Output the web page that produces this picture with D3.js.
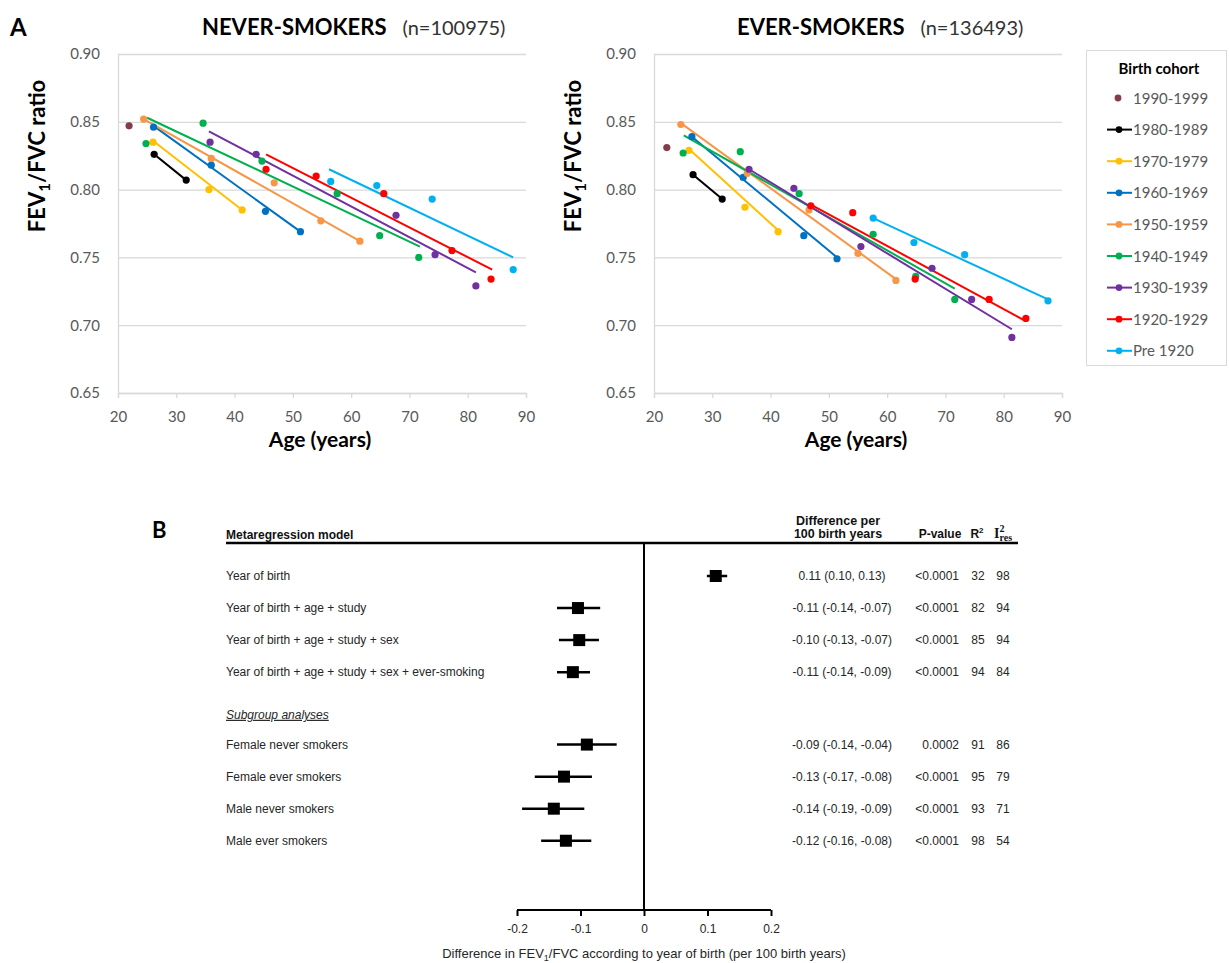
<!DOCTYPE html>
<html>
<head>
<meta charset="utf-8">
<script src="https://cdn.jsdelivr.net/npm/d3@7/dist/d3.min.js"></script>
<style>
body { margin: 0; background: #fff; }
svg { display: block; }
</style>
</head>
<body>
<svg width="1229" height="963"></svg>
<script>
// ---- panel A data ----
var cohorts = ["1990-1999","1980-1989","1970-1979","1960-1969","1950-1959","1940-1949","1930-1939","1920-1929","Pre 1920"];
var cohortColors = ["#843c4c","#000000","#ffc000","#0070c0","#f79646","#00b050","#7030a0","#ff0000","#00b0f0"];
var xTicks = [20,30,40,50,60,70,80,90];
var yTicks = [0.65,0.70,0.75,0.80,0.85,0.90];

// never-smokers: [age, FEV1/FVC] per cohort
var never1990 = [[21.9,0.847]];
var never1980 = [[26.2,0.826],[31.7,0.807]];
var never1970 = [[26.0,0.835],[35.6,0.800],[41.3,0.785]];
var never1960 = [[26.1,0.846],[36.0,0.818],[45.3,0.784],[51.3,0.769]];
var never1950 = [[24.4,0.852],[36.0,0.823],[46.8,0.805],[54.8,0.777],[61.5,0.762]];
var never1940 = [[24.8,0.834],[34.6,0.849],[44.7,0.821],[57.6,0.797],[64.9,0.766],[71.6,0.750]];
var never1930 = [[35.8,0.835],[43.7,0.826],[67.7,0.781],[74.4,0.752],[81.4,0.729]];
var never1920 = [[45.4,0.815],[54.0,0.810],[65.6,0.797],[77.3,0.755],[84.0,0.734]];
var neverPre  = [[56.5,0.806],[64.4,0.803],[73.9,0.793],[87.8,0.741]];
// never-smokers trend lines: [start, end]
var neverFits = [null,
  [[26.2,0.826],[31.7,0.807]],
  [[26.0,0.836],[41.3,0.785]],
  [[26.1,0.847],[51.3,0.769]],
  [[24.4,0.852],[61.5,0.762]],
  [[25.0,0.853],[71.8,0.758]],
  [[35.6,0.843],[81.4,0.739]],
  [[45.4,0.826],[84.2,0.741]],
  [[56.2,0.815],[87.8,0.750]]];

// ever-smokers
var ever1990 = [[22.2,0.831]];
var ever1980 = [[26.7,0.811],[31.7,0.793]];
var ever1970 = [[26.0,0.829],[35.6,0.787],[41.3,0.769]];
var ever1960 = [[26.5,0.839],[35.3,0.809],[45.7,0.766],[51.4,0.749]];
var ever1950 = [[24.6,0.848],[36.0,0.812],[46.6,0.785],[55.0,0.753],[61.5,0.733]];
var ever1940 = [[25.0,0.827],[34.8,0.828],[44.9,0.797],[57.6,0.767],[64.9,0.736],[71.6,0.719]];
var ever1930 = [[36.3,0.815],[44.0,0.801],[55.5,0.758],[67.7,0.742],[74.5,0.719],[81.4,0.691]];
var ever1920 = [[46.9,0.788],[54.1,0.783],[64.8,0.734],[77.5,0.719],[83.8,0.705]];
var everPre  = [[57.6,0.779],[64.6,0.761],[73.3,0.752],[87.6,0.718]];
var everFits = [null,
  [[26.7,0.811],[31.7,0.793]],
  [[26.0,0.830],[41.3,0.770]],
  [[26.5,0.839],[51.4,0.750]],
  [[24.6,0.849],[61.5,0.734]],
  [[25.1,0.840],[71.6,0.727]],
  [[36.3,0.815],[81.4,0.697]],
  [[46.9,0.789],[83.8,0.703]],
  [[57.6,0.779],[87.6,0.719]]];

var neverPoints = [never1990,never1980,never1970,never1960,never1950,never1940,never1930,never1920,neverPre];
var everPoints = [ever1990,ever1980,ever1970,ever1960,ever1950,ever1940,ever1930,ever1920,everPre];

// ---- panel B data ----
var models = ["Year of birth","Year of birth  + age  + study","Year of birth  + age  + study  + sex",
  "Year of birth  + age  + study  + sex  + ever-smoking","Female never smokers","Female ever smokers",
  "Male never smokers","Male ever smokers"];
var estimate = [0.113,-0.104,-0.102,-0.112,-0.090,-0.126,-0.142,-0.123];
var ciLow    = [0.099,-0.137,-0.134,-0.137,-0.137,-0.172,-0.192,-0.162];
var ciHigh   = [0.131,-0.069,-0.071,-0.085,-0.043,-0.082,-0.094,-0.083];
var diffText = ["0.11 (0.10, 0.13)","-0.11 (-0.14, -0.07)","-0.10 (-0.13, -0.07)","-0.11 (-0.14, -0.09)",
  "-0.09 (-0.14, -0.04)","-0.13 (-0.17, -0.08)","-0.14 (-0.19, -0.09)","-0.12 (-0.16, -0.08)"];
var pText = ["<0.0001","<0.0001","<0.0001","<0.0001","0.0002","<0.0001","<0.0001","<0.0001"];
var r2Text = ["32","82","85","94","91","95","93","98"];
var i2Text = ["98","94","94","84","86","79","71","54"];
var forestTicks = [-0.2,-0.1,0,0.1,0.2];

var svg = d3.select("svg");
var calibri = "Lato, 'Open Sans', sans-serif";
var narrow = "'Liberation Sans Narrow', 'Arial Narrow', 'Liberation Sans', Arial, sans-serif";

var plotW = 408, plotH = 339, plotTop = 54;
var x = d3.scaleLinear().domain([20,90]).range([0,plotW]);
var y = d3.scaleLinear().domain([0.65,0.90]).range([plotH,0]);
var line = d3.line().x(function(d){ return x(d[0]); }).y(function(d){ return y(d[1]); });

function drawPanel(left, pts, fits, title, ntext, titleX) {
  var g = svg.append("g").attr("transform","translate("+left+","+plotTop+")");

  //grid lines
  g.append("g")
    .call(d3.axisLeft(y).tickValues(yTicks).tickSize(-plotW).tickFormat(""))
    .call(function(a){ a.select(".domain").remove(); })
    .selectAll("line").attr("stroke","#d9d9d9").attr("stroke-width",1.3);

  var ya = g.append("g")
    .call(d3.axisLeft(y).tickValues(yTicks).tickSize(0).tickPadding(18).tickFormat(d3.format(".2f")));
  ya.select(".domain").attr("stroke","#d9d9d9").attr("stroke-width",1.3);
  ya.selectAll("text").attr("font-family",calibri).attr("font-size",15).attr("fill","#595959");

  var xa = g.append("g").attr("transform","translate(0,"+plotH+")")
    .call(d3.axisBottom(x).tickValues(xTicks).tickSize(5).tickPadding(13));
  xa.select(".domain").attr("stroke","#d9d9d9").attr("stroke-width",1.3);
  xa.selectAll("line").attr("stroke","#d9d9d9").attr("stroke-width",1.3);
  xa.selectAll("text").attr("font-family",calibri).attr("font-size",15).attr("fill","#595959");

  // trend lines
  fits.forEach(function(f,i){
    if (!f) return;
    g.append("path").datum(f).attr("d",line)
      .attr("fill","none").attr("stroke",cohortColors[i]).attr("stroke-width",2);
  });
  // points
  pts.forEach(function(p,i){
    g.selectAll(".pt"+i).data(p).enter().append("circle")
      .attr("cx",function(d){ return x(d[0]); })
      .attr("cy",function(d){ return y(d[1]); })
      .attr("r",3.6).attr("fill",cohortColors[i]);
  });

  // y title
  var yt = g.append("text").attr("transform","translate(-73,102) rotate(-90)")
    .attr("text-anchor","middle").attr("font-family",calibri).attr("font-weight","bold")
    .attr("font-size",22).attr("fill","#000");
  yt.append("tspan").text("FEV");
  yt.append("tspan").attr("font-size",15).attr("dy",5).text("1");
  yt.append("tspan").attr("dy",-5).text("/FVC ratio");

  g.append("text").attr("x",plotW/2 - 2).attr("y",plotH+54)
    .attr("text-anchor","middle").attr("font-family",calibri).attr("font-weight","bold")
    .attr("font-size",21).text("Age (years)");

  var tt = svg.append("text").attr("x",titleX).attr("y",35)
    .attr("font-family",calibri).attr("font-size",22);
  tt.append("tspan").attr("font-weight","bold").text(title);
  tt.append("tspan").attr("dx",16).attr("font-size",20).attr("fill","#333").text(ntext);
}

svg.append("text").attr("x",10).attr("y",36).attr("font-family",calibri)
  .attr("font-weight","bold").attr("font-size",24).text("A");

drawPanel(118, neverPoints, neverFits, "NEVER-SMOKERS", "(n=100975)", 202);
drawPanel(654, everPoints, everFits, "EVER-SMOKERS", "(n=136493)", 737);

// legend
var lg = svg.append("g").attr("transform","translate(1086,50)");
lg.append("rect").attr("x",0.5).attr("y",0.5).attr("width",140).attr("height",315)
  .attr("fill","#fff").attr("stroke","#d9d9d9");
lg.append("text").attr("x",73).attr("y",24).attr("text-anchor","middle")
  .attr("font-family",calibri).attr("font-weight","bold").attr("font-size",15).text("Birth cohort");
var li = lg.selectAll(".li").data(cohorts).enter().append("g")
  .attr("transform",function(d,i){ return "translate(0,"+(48 + i*31.6)+")"; });
li.filter(function(d,i){ return i>0; }).append("line")
  .attr("x1",21).attr("x2",46).attr("stroke",function(d){ return cohortColors[cohorts.indexOf(d)]; })
  .attr("stroke-width",2);
li.append("circle").attr("cx",function(d,i){ return i==0 ? 32 : 33; }).attr("r",3.4)
  .attr("fill",function(d,i){ return cohortColors[i]; });
li.append("text").attr("x",47).attr("y",5.5).attr("font-family",calibri).attr("font-size",15)
  .attr("fill","#595959").text(function(d){ return d; });

// ---- panel B ----
var fx = d3.scaleLinear().domain([-0.2,0.2]).range([517,771]);
// row slot positions (subgroup header sits in slot 4.33)
var rowSlot = [0,1,2,3,5.26,6.26,7.26,8.26];
var rowY = function(s){ return 576 + s*32.05; };

svg.append("text").attr("x",152).attr("y",538).attr("font-family",calibri)
  .attr("font-weight","bold").attr("font-size",22).text("B");

var fb = svg.append("g").attr("font-family",narrow).attr("font-size",12).attr("fill","#262626");
fb.append("text").attr("x",226).attr("y",539).attr("font-weight","bold").attr("fill","#111").text("Metaregression model");
fb.append("text").attr("x",838).attr("y",525).attr("text-anchor","middle").attr("font-weight","bold").attr("fill","#111").attr("font-size",12.5).text("Difference per");
fb.append("text").attr("x",838).attr("y",538).attr("text-anchor","middle").attr("font-weight","bold").attr("fill","#111").attr("font-size",12.5).text("100 birth years");
fb.append("text").attr("x",940).attr("y",538).attr("text-anchor","middle").attr("font-weight","bold").attr("fill","#111").text("P-value");
var r2h = fb.append("text").attr("x",977).attr("y",538).attr("text-anchor","middle").attr("font-weight","bold").attr("fill","#111");
r2h.append("tspan").text("R");
r2h.append("tspan").attr("font-size",8).attr("dy",-5).text("2");
var i2h = fb.append("text").attr("x",994).attr("y",538).attr("font-weight","bold").attr("fill","#111")
  .attr("font-family","'Liberation Serif', serif").attr("font-size",14);
i2h.append("tspan").text("I");
i2h.append("tspan").attr("font-size",10).attr("dy",-6).text("2");
i2h.append("tspan").attr("font-size",10).attr("dx",-5).attr("dy",9).text("res");

fb.append("line").attr("x1",226).attr("x2",1018).attr("y1",543).attr("y2",543)
  .attr("stroke","#000").attr("stroke-width",2.5);
fb.append("line").attr("x1",fx(0)).attr("x2",fx(0)).attr("y1",543).attr("y2",910)
  .attr("stroke","#000").attr("stroke-width",2);

var fa = fb.append("g").attr("transform","translate(0,910)")
  .call(d3.axisBottom(fx).tickValues(forestTicks).tickSize(6).tickPadding(8)
    .tickFormat(function(d){ return d===0 ? "0" : d3.format(".1f")(d).replace("−","-"); }));
fa.select(".domain").attr("stroke","#000").attr("stroke-width",2).attr("d","M517,0H771");
fa.selectAll("line").attr("stroke","#000").attr("stroke-width",2);
fa.selectAll("text").attr("font-family",narrow).attr("font-size",12).attr("fill","#262626");

var axl = fb.append("text").attr("x",fx(0)).attr("y",958).attr("text-anchor","middle").attr("font-size",13);
axl.append("tspan").text("Difference in FEV");
axl.append("tspan").attr("font-size",9).attr("dy",3).text("1");
axl.append("tspan").attr("dy",-3).text("/FVC according to year of birth (per 100 birth years)");

fb.append("text").attr("x",226).attr("y",rowY(4.33)+4).attr("font-style","italic")
  .attr("text-decoration","underline").text("Subgroup analyses");

var rows = fb.selectAll(".row").data(models).enter().append("g")
  .attr("transform",function(d,i){ return "translate(0,"+rowY(rowSlot[i])+")"; });
rows.append("text").attr("x",226).attr("y",4).text(function(d){ return d; });
rows.append("line").attr("x1",function(d,i){ return fx(ciLow[i]); }).attr("x2",function(d,i){ return fx(ciHigh[i]); })
  .attr("stroke","#000").attr("stroke-width",2.5);
rows.append("rect").attr("x",function(d,i){ return fx(estimate[i]) - 6; }).attr("y",-6)
  .attr("width",12).attr("height",12).attr("fill","#000");
rows.append("text").attr("x",842).attr("y",4).attr("text-anchor","middle").text(function(d,i){ return diffText[i]; });
rows.append("text").attr("x",959).attr("y",4).attr("text-anchor","end").text(function(d,i){ return pText[i]; });
rows.append("text").attr("x",978).attr("y",4).attr("text-anchor","middle").text(function(d,i){ return r2Text[i]; });
rows.append("text").attr("x",1003).attr("y",4).attr("text-anchor","middle").text(function(d,i){ return i2Text[i]; });
</script>
</body>
</html>
